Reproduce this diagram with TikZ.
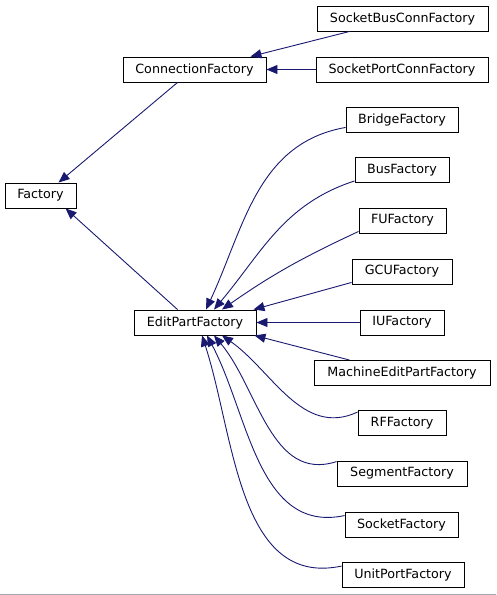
\documentclass[tikz,border=0pt]{standalone}
\usepackage{fontspec}
\setmainfont{DejaVu Sans}
\usepackage{tikz}
\usetikzlibrary{positioning, arrows.meta, calc}
\definecolor{edgeblue}{HTML}{191970}
\definecolor{framegray}{HTML}{A8A8B0}

\begin{document}
\begin{tikzpicture}[x=1pt, y=-1pt,
    cls/.style={draw=black, line width=0.9pt, fill=white, inner sep=0pt,
                minimum height=25pt, font=\fontsize{12.7}{15}\selectfont},
    inherit/.style={draw=edgeblue, line width=0.9pt,
                    -{Triangle[length=11pt, width=9pt]}}]
  \useasboundingbox (0,0) rectangle (496,595);

  % base classes
  \node[cls, minimum width=71pt] (factory) at (40.5,195.5) {Factory};
  \node[cls, minimum width=143pt] (cf) at (194.5,69.5) {ConnectionFactory};
  \node[cls, minimum width=122pt] (epf) at (195,322.5) {EditPartFactory};

  % connection factories
  \node[cls, minimum width=171pt] (sbcf) at (402.5,18.5) {SocketBusConnFactory};
  \node[cls, minimum width=172pt] (spcf) at (402,69.5) {SocketPortConnFactory};

  % edit part factories
  \node[cls, minimum width=112pt] (bridge) at (402,119.5) {BridgeFactory};
  \node[cls, minimum width=94pt] (bus) at (402,170) {BusFactory};
  \node[cls, minimum width=87pt] (fu) at (402.5,220.5) {FUFactory};
  \node[cls, minimum width=100pt] (gcu) at (402,271.5) {GCUFactory};
  \node[cls, minimum width=84pt] (iu) at (402,322.5) {IUFactory};
  \node[cls, minimum width=176pt] (mepf) at (402,373) {MachineEditPartFactory};
  \node[cls, minimum width=88pt] (rf) at (402,423) {RFFactory};
  \node[cls, minimum width=130pt] (segment) at (402,473.5) {SegmentFactory};
  \node[cls, minimum width=113pt] (socket) at (401.5,524.5) {SocketFactory};
  \node[cls, minimum width=122pt] (uport) at (403,575) {UnitPortFactory};

  % inheritance
  \draw[inherit] ($(cf.south west)+(55,0)$) -- ($(factory.north west)+(54,0)$);
  \draw[inherit] ($(epf.north west)+(44,0)$) -- ($(factory.south west)+(61,0)$);
  \draw[inherit] ($(sbcf.south west)+(33,0)$) -- ($(cf.north east)+(-16,0)$);
  \draw[inherit] (spcf) -- (cf);

  \draw[inherit] ($(bridge.south west)+(0,-5)$) to[out=190, in=65] ($(epf.north)+(11,0)$);
  \draw[inherit] ($(bus.south west)+(0,-2)$) to[out=198, in=50] ($(epf.north)+(19,0)$);
  \draw[inherit] ($(fu.south west)+(0,-2)$) to[out=205, in=35] ($(epf.north)+(27,0)$);
  \draw[inherit] ($(gcu.south west)+(0,-2)$) -- ($(epf.north east)+(-3,0)$);
  \draw[inherit] (iu) -- (epf);
  \draw[inherit] ($(mepf.north west)+(36,0)$) -- ($(epf.south east)+(-2,0)$);
  \draw[inherit] ($(rf.north west)+(0,2)$) to[out=205, in=-35] ($(epf.south)+(27,0)$);
  \draw[inherit] ($(segment.north west)+(0,1)$) to[out=198, in=-50] ($(epf.south)+(19,0)$);
  \draw[inherit] ($(socket.north west)+(0,4)$) to[out=192, in=-62] ($(epf.south)+(12,0)$);
  \draw[inherit] ($(uport.north west)+(0,4)$) to[out=192, in=-72] ($(epf.south)+(7,0)$);

  \draw[framegray, line width=1pt] (0,594) -- (496,594);
\end{tikzpicture}
\end{document}
